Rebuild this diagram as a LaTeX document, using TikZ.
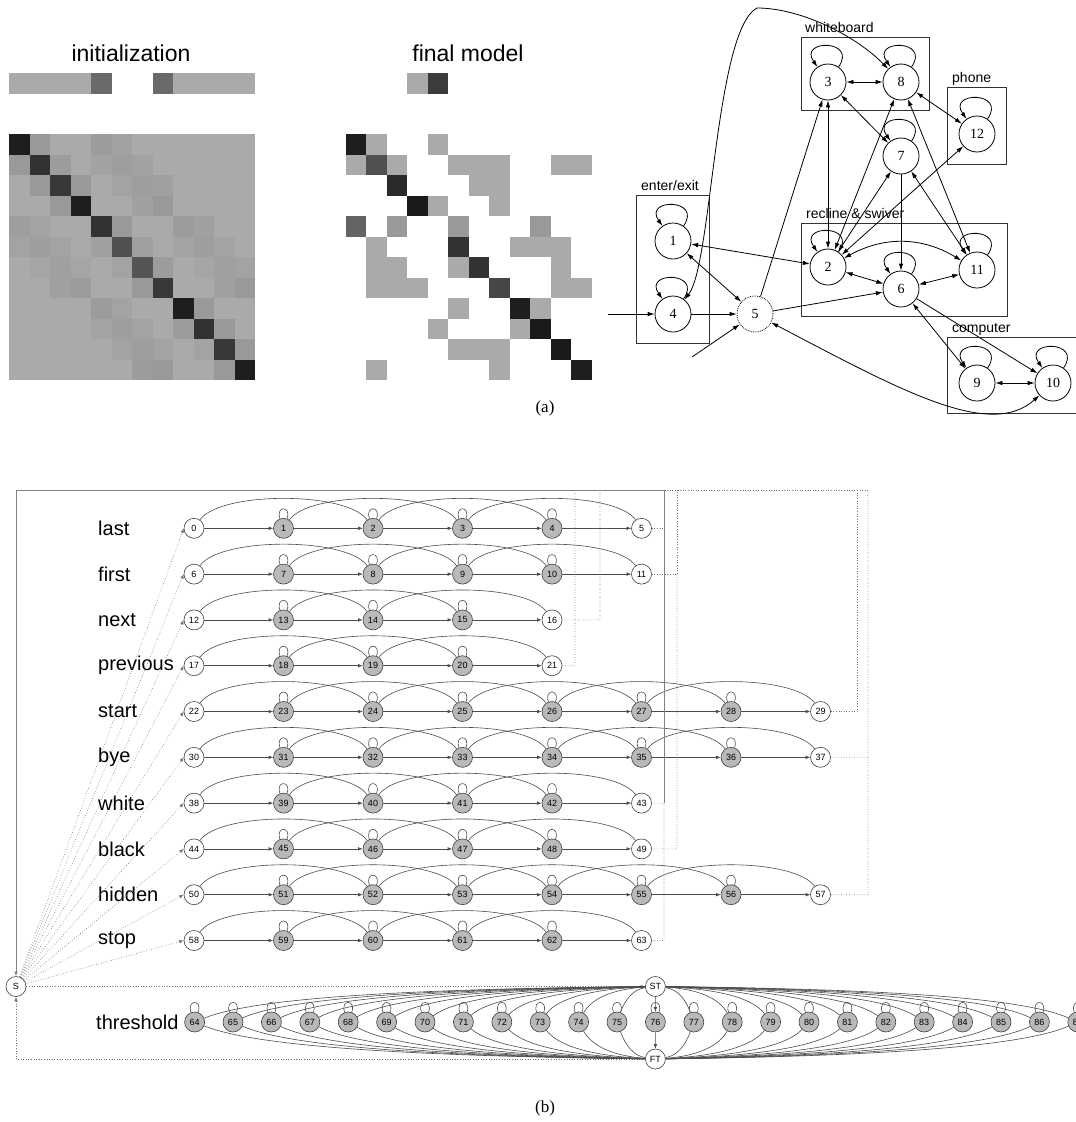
\documentclass[tikz,border=0pt]{standalone}
\usepackage{fontspec}
\setmainfont{Liberation Serif}
\setsansfont{Liberation Sans}
\usetikzlibrary{arrows.meta,calc}
\definecolor{ngray}{RGB}{185,185,185}
\begin{document}
\begin{tikzpicture}[x=1pt,y=-1pt,
  gn/.style={circle,draw=black,line width=0.8pt,minimum size=36pt,inner sep=0pt,font=\fontsize{14}{14}\selectfont},
  ge/.style={line width=0.8pt,>={Latex[length=7pt,width=4.5pt]}},
  glbl/.style={anchor=base west,inner sep=0pt,font=\sffamily\fontsize{14}{14}\selectfont},
  gbox/.style={draw=black!80,line width=0.9pt},
  ttl/.style={font=\sffamily\fontsize{23}{23}\selectfont,inner sep=0pt},
  capstyle/.style={font=\fontsize{17}{17}\selectfont,inner sep=0pt},
  bn/.style={circle,draw=black!75,line width=0.6pt,minimum size=20pt,inner sep=0pt,font=\sffamily\fontsize{9}{9}\selectfont,fill=white},
  bng/.style={bn,fill=ngray},
  be/.style={draw=black!70,line width=0.6pt},
  barr/.style={be,-{Latex[length=4.5pt,width=3.5pt]}},
  bdot/.style={draw=black!55,line width=0.6pt,dotted},
  btrunk/.style={draw=black!50,line width=0.7pt},
  blbl/.style={anchor=west,inner sep=0pt,font=\sffamily\fontsize{20}{20}\selectfont},
]
\clip (0,0) rectangle (1076,1122);
\fill[white] (0,0) rectangle (1076,1122);

% ---------------- (a) matrices ----------------
\node[ttl] (tinit) at (131,53) {initialization};
\node[ttl] (tfin) at (468,53) {final model};

\foreach \v [count=\ci from 0] in {170,170,170,170,106,255,255,106,170,170,170,170} {
  \ifnum\v<255
    \definecolor{cellc}{RGB}{\v,\v,\v}
    \fill[cellc] ({9+20.5*\ci},73) rectangle ++(20.6,20.5);
  \fi
}
\foreach \v [count=\ci from 0] in {255,255,255,170,60,255,255,255,255,255,255,255} {
  \ifnum\v<255
    \definecolor{cellc}{RGB}{\v,\v,\v}
    \fill[cellc] ({345.7+20.5*\ci},73) rectangle ++(20.6,20.5);
  \fi
}

\foreach \row [count=\ri from 0] in {
 {30,153,170,170,156,162,170,170,170,170,170,170},
 {153,50,156,170,162,158,162,170,170,170,170,170},
 {170,153,56,153,170,163,158,160,170,170,170,170},
 {170,170,153,30,170,170,160,153,170,170,170,170},
 {158,163,170,170,50,153,170,170,156,160,170,170},
 {163,158,163,170,160,80,160,170,163,158,163,170},
 {170,165,160,165,170,163,85,156,170,165,160,163},
 {170,170,160,156,170,170,153,56,170,170,160,153},
 {170,170,170,170,156,163,170,170,30,153,170,170},
 {170,170,170,170,163,158,163,170,156,50,153,170},
 {170,170,170,170,170,163,158,163,170,163,56,153},
 {170,170,170,170,170,170,156,153,170,170,153,30}} {
  \foreach \v [count=\ci from 0] in \row {
    \definecolor{cellc}{RGB}{\v,\v,\v}
    \fill[cellc] ({9+20.5*\ci},{134+20.5*\ri}) rectangle ++(20.6,20.6);
  }
}

\foreach \row [count=\ri from 0] in {
 {30,170,255,255,170,255,255,255,255,255,255,255},
 {170,80,170,255,255,170,170,170,255,255,170,170},
 {255,255,42,255,255,255,170,170,255,255,255,255},
 {255,255,255,26,170,255,255,170,255,255,255,255},
 {100,255,153,255,255,153,255,255,255,153,255,255},
 {255,170,255,255,255,50,255,255,170,170,170,255},
 {255,170,170,255,255,170,50,255,255,255,170,255},
 {255,170,170,170,255,255,255,70,255,255,170,170},
 {255,255,255,255,255,170,255,255,30,170,255,255},
 {255,255,255,255,170,255,255,255,170,26,255,255},
 {255,255,255,255,255,170,170,170,255,255,26,255},
 {255,170,255,255,255,255,255,170,255,255,255,30}} {
  \foreach \v [count=\ci from 0] in \row {
    \ifnum\v<255
      \definecolor{cellc}{RGB}{\v,\v,\v}
      \fill[cellc] ({345.7+20.5*\ci},{134+20.5*\ri}) rectangle ++(20.6,20.6);
    \fi
  }
}

% ---------------- (a) graph ----------------
\draw[gbox] (801,37) rectangle (929,110);
\draw[gbox] (947,87) rectangle (1006,164);
\draw[gbox] (636,195) rectangle (709,343);
\draw[gbox] (801,223) rectangle (1007,316);
\draw[gbox] (947,337) rectangle (1090,413);
\node[glbl] (lwb) at (805,32) {whiteboard};
\node[glbl] (lph) at (952,82) {phone};
\node[glbl] (lee) at (641,190) {enter/exit};
\node[glbl] (lrs) at (806,218) {recline \& swiver};
\node[glbl] (lco) at (952,332) {computer};

\node[gn] (n3) at (828,82) {3};
\node[gn] (n8) at (901,82) {8};
\node[gn] (n12) at (977,134) {12};
\node[gn] (n7) at (901,156) {7};
\node[gn] (n1) at (673,241) {1};
\node[gn] (n4) at (673,314) {4};
\node[gn,densely dotted] (n5) at (755,314) {5};
\node[gn] (n2) at (828,267) {2};
\node[gn] (n6) at (901,289) {6};
\node[gn] (n11) at (977,270) {11};
\node[gn] (n9) at (977,383) {9};
\node[gn] (n10) at (1053,383) {10};
\coordinate (in4) at (608,314);
\coordinate (in5) at (692,357);

\foreach \n in {3,8,12,7,1,4,2,6,11,9,10}
  \draw[ge,->] (n\n) to[out=55,in=125,distance=34pt] (n\n);

\draw[ge,<->] (n3) -- (n8);
\draw[ge,<->] (n3) -- (n7);
\draw[ge,<->] (n8) -- (n12);
\draw[ge,<->] (n12) -- (n2);
\draw[ge,->] (n5) -- (n3);
\draw[ge,<->] (n2) -- (n3);
\draw[ge,<->] (n8) -- (n2);
\draw[ge,<->] (n7) -- (n2);
\draw[ge,->] (n7) -- (n6);
\draw[ge,<->] (n8) -- (n11);
\draw[ge,<->] (n7) -- (n11);
\draw[ge,<->] (n1) -- (n2);
\draw[ge,<->] (n1) -- (n5);
\draw[ge,->] (n4) -- (n5);
\draw[ge,->] (in4) -- (n4);
\draw[ge,->] (in5) -- (n5);
\draw[ge,->] (n5) -- (n6);
\draw[ge,<->] (n2) -- (n6);
\draw[ge,<->] (n2) to[bend left=30] (n11);
\draw[ge,<->] (n6) -- (n11);
\draw[ge,<->] (n6) -- (n9);
\draw[ge,->] (n6) -- (n10);
\draw[ge,<->] (n9) -- (n10);
\draw[ge,<->] (n5) .. controls (900,390) and (990,440) .. (n10);
\draw[ge,<->] (n4) .. controls (712,265) and (715,30) .. (757,8) .. controls (800,8) and (855,35) .. (n8);

\node[capstyle] (capa) at (545,408) {(a)};

% ---------------- (b) ----------------
\node[bn] (S) at (16,986.5) {S};
\node[bn] (ST) at (655.4,986.5) {ST};
\node[bn] (FT) at (655.4,1059) {FT};

\foreach \lab/\s/\n [count=\ri from 0] in {last/0/6,first/6/6,next/12/5,previous/17/5,start/22/8,bye/30/8,white/38/6,black/44/6,hidden/50/8,stop/58/6} {
  \pgfmathsetmacro\yy{528.3+45.8*\ri}
  \node[blbl] (lab\ri) at (98,\yy) {\lab};
  \pgfmathtruncatemacro\lastj{\n-1}
  \foreach \j in {0,...,\lastj} {
    \pgfmathtruncatemacro\k{\s+\j}
    \pgfmathsetmacro\xx{194+89.5*\j}
    \ifnum\j=0
      \node[bn] (b\k) at (\xx,\yy) {\k};
    \else\ifnum\j=\lastj
      \node[bn] (b\k) at (\xx,\yy) {\k};
    \else
      \node[bng] (b\k) at (\xx,\yy) {\k};
    \fi\fi
  }
}
\node[blbl] (labth) at (96,1022) {threshold};

\foreach \s/\n in {0/6,6/6,12/5,17/5,22/8,30/8,38/6,44/6,50/8,58/6} {
  \pgfmathtruncatemacro\lk{\s+\n-1}
  \pgfmathtruncatemacro\lkm{\lk-1}
  \pgfmathtruncatemacro\lkmm{\lk-2}
  \pgfmathtruncatemacro\sa{\s+1}
  \foreach \k in {\s,...,\lkm} {
    \pgfmathtruncatemacro\kk{\k+1}
    \draw[barr] (b\k) -- (b\kk);
  }
  \foreach \k in {\s,...,\lkmm} {
    \pgfmathtruncatemacro\kk{\k+2}
    \draw[be] (b\k) to[out=55,in=125,distance=35pt] (b\kk);
  }
  \foreach \k in {\sa,...,\lkm} {
    \draw[be] (b\k) to[out=110,in=70,distance=14pt] (b\k);
  }
  \draw[bdot,-{Latex[length=4.5pt,width=3.5pt]}] (S) -- (b\s.west);
}

% return paths from final states
\draw[bdot] (b5.east) -- (664,528.3);
\draw[bdot] (b11.east) -- (677,574.1) -- (677,490);
\draw[bdot] (b16.east) -- (600,619.9) -- (600,490);
\draw[bdot] (b21.east) -- (575,665.7) -- (575,490);
\draw[bdot] (b29.east) -- (857,711.5) -- (857,490);
\draw[bdot] (b37.east) -- (868,757.3) -- (868,490);
\draw[bdot] (b43.east) -- (664,803.1);
\draw[bdot] (b49.east) -- (677,848.9) -- (677,574.1);
\draw[bdot] (b57.east) -- (868,894.7) -- (868,757.3);
\draw[bdot] (b63.east) -- (664,940.5) -- (664,803.1);
\draw[bdot] (868,490) -- (664,490);
\draw[btrunk] (664,803.1) -- (664,490);
\draw[btrunk,-{Latex[length=4.5pt,width=3.5pt]}] (664,490) -- (16,490) -- (S);

% threshold model
\foreach \k in {64,...,87} {
  \pgfmathsetmacro\xx{194.6+38.4*(\k-64)}
  \node[bng] (t\k) at (\xx,1022) {\k};
}
\draw[bdot,-{Latex[length=4.5pt,width=3.5pt]}] (S) -- (ST);
\draw[bdot,-{Latex[length=4.5pt,width=3.5pt]}] (FT) -- (16,1059) -- (S);
\foreach \k in {64,...,87} {
  \draw[be] (t\k) to[out=110,in=70,distance=14pt] (t\k);
  \ifnum\k=76\relax
    \draw[barr] (ST) -- (t76);
    \draw[barr] (t76) -- (FT);
  \else
    \pgfmathsetmacro\xx{194.6+38.4*(\k-64)}
    \pgfmathsetmacro\dd{abs(655.4-\xx)}
    \pgfmathsetmacro\sg{(\xx<655.4) ? -1 : 1}
    \pgfmathsetmacro\ca{655.4+\sg*0.55*\dd}
    \pgfmathsetmacro\cb{\xx-\sg*(0.12*\dd+4)}
    \draw[be] (ST) .. controls (\ca,989) and (\cb,998) .. (t\k);
    \draw[be] (t\k) .. controls (\cb,1046) and (\ca,1056) .. (FT);
  \fi
}

\node[capstyle] (capb) at (545,1108) {(b)};
\end{tikzpicture}
\end{document}
